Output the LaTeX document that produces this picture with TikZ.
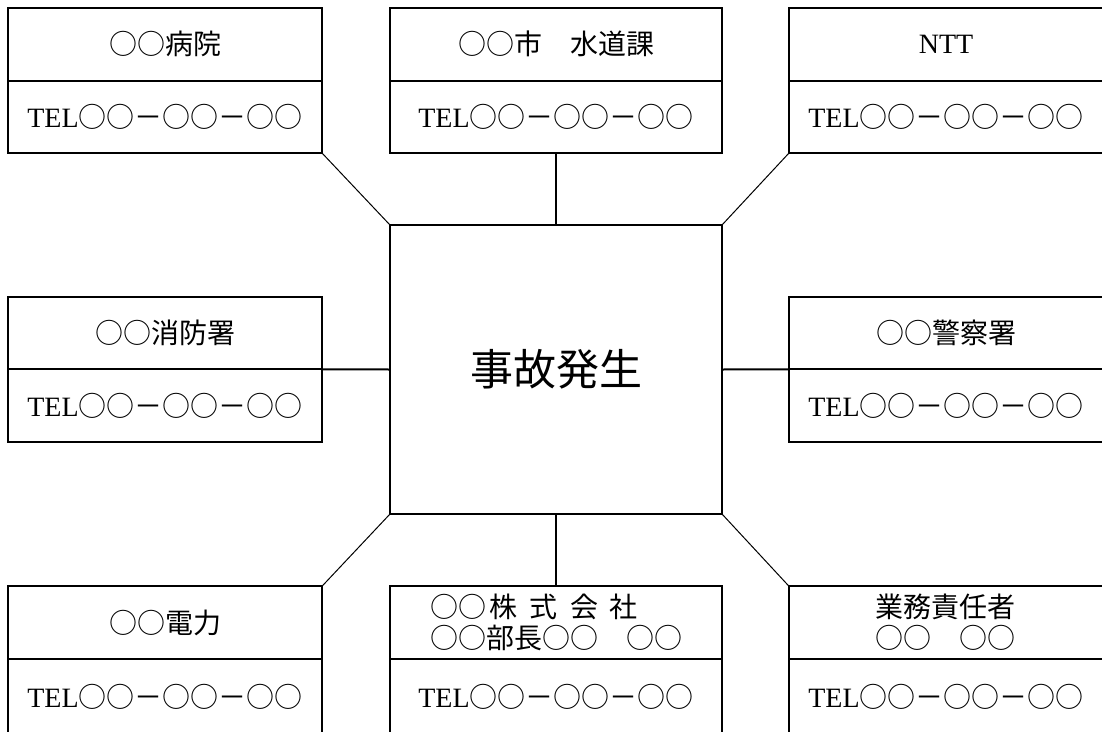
\documentclass[tikz,border=0pt]{standalone}
\usepackage{fontspec}
\setmainfont{Liberation Serif}
\newfontfamily\jp{Noto Sans CJK JP}
\tikzset{
  cell/.style={draw, line width=2pt, minimum width=314pt, minimum height=72.5pt, inner sep=0pt, outer sep=0pt},
  wide/.style={minimum width=332pt},
  edge box/.style={minimum width=320pt},
  ttl/.style={cell, font=\jp\fontsize{28}{31}\selectfont},
  tel/.style={cell, font=\fontsize{28}{31}\selectfont},
  link/.style={line width=2pt},
  diag/.style={line width=1pt},
}
\newcommand{\telno}{TEL{\jp ○○－○○－○○}}
\begin{document}
\begin{tikzpicture}[x={(1pt,0)}, y={(0,-1pt)}]
\fill[white] (0,0) rectangle (1102,731);
\useasboundingbox (0,0) rectangle (1102,731);
\clip (0,0) rectangle (1102,731);
% top row
\node[ttl] (t1) at (165,44.25) {○○病院};
\node[tel] (p1) at (165,116.75) {\telno};
\node[ttl,wide] (t2) at (556,44.25) {○○市　水道課};
\node[tel,wide] (p2) at (556,116.75) {\telno};
\node[ttl,edge box] (t3) at (949,44.25) {\hspace{-6pt}\rmfamily NTT};
\node[tel,edge box] (p3) at (949,116.75) {\hspace{-6pt}\telno};
% middle row
\node[ttl] (t4) at (165,333) {○○消防署};
\node[tel] (p4) at (165,405.5) {\telno};
\node[ttl,edge box] (t6) at (949,333) {\hspace{-6pt}○○警察署};
\node[tel,edge box] (p6) at (949,405.5) {\hspace{-6pt}\telno};
% bottom row
\node[ttl] (t7) at (165,622.5) {○○電力};
\node[tel,minimum height=76pt] (p7) at (165,697) {\telno};
\node[ttl,wide,align=left] (t8) at (556,622.5) {○○\hspace{4pt}株\hspace{12pt}式\hspace{12pt}会\hspace{12pt}社\\○○部長○○　○○};
\node[tel,wide,minimum height=76pt] (p8) at (556,697) {\telno};
\node[ttl,edge box,align=center] (t9) at (949,622.5) {\hspace*{-8pt}業務責任者\\\hspace*{-8pt}○○　○○};
\node[tel,edge box,minimum height=76pt] (p9) at (949,697) {\hspace{-6pt}\telno};
% centre
\node[draw, line width=2pt, minimum width=332pt, minimum height=289pt, inner sep=0pt, outer sep=0pt, font=\jp\fontsize{43}{45}\selectfont] (c) at (556,369.5) {事故発生};
% connectors
\draw[diag] (p1.south east) -- (c.north west);
\draw[link] (p2.south) -- (c.north);
\draw[diag] (p3.south west) -- (c.north east);
\draw[link] (t4.south east) -- (c.west);
\draw[link] (c.east) -- (t6.south west);
\draw[diag] (c.south west) -- (t7.north east);
\draw[link] (c.south) -- (t8.north);
\draw[diag] (c.south east) -- (t9.north west);
\end{tikzpicture}
\end{document}
